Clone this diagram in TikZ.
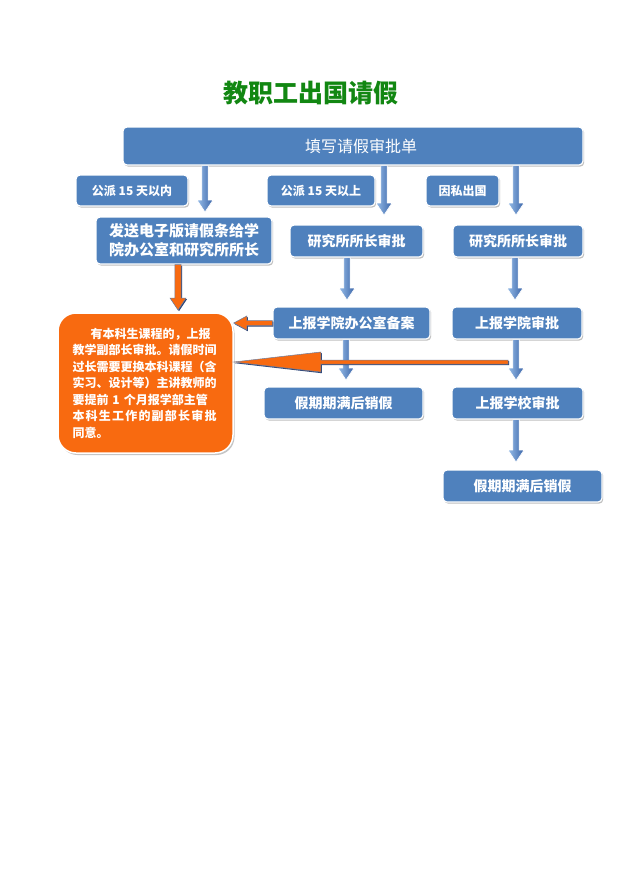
\documentclass[tikz,border=0pt]{standalone}
\usepackage{fontspec}
\setmainfont{Noto Sans CJK SC}
\usetikzlibrary{shadows,calc}
\definecolor{boxblue}{RGB}{79,129,189}
\definecolor{arrlight}{RGB}{150,188,232}
\definecolor{arrdark}{RGB}{58,100,168}
\definecolor{orng}{RGB}{248,106,16}
\definecolor{ttlgreen}{RGB}{18,135,18}
\definecolor{shdblue}{RGB}{45,70,120}
\newcommand\dnarrow[3]{%
  \path[#1] let \p1=(#2), \p2=(#3) in
  (\x1-3.2pt,\y1) -- (\x1+3.2pt,\y1) -- (\x1+3.2pt,\y2+12pt) -- (\x1+8pt,\y2+12pt) --
  (\x1,\y2) -- (\x1-8pt,\y2+12pt) -- (\x1-3.2pt,\y2+12pt) -- cycle;}
\newcommand\lfarrow[6]{%
  \path[#1] let \p1=(#2), \p2=(#3) in
  (\x1,\y1+#4) -- (\x2+#5,\y1+#4) -- (\x2+#5,\y1+#6) -- (\x2,\y2) --
  (\x2+#5,\y1-#6) -- (\x2+#5,\y1-#4) -- (\x1,\y1-#4) -- cycle;}
\begin{document}
\begin{tikzpicture}[x=1pt,y=-1pt,
  box/.style={rectangle, rounded corners=4pt, fill=boxblue, draw=white, line width=1.2pt,
    text=white, font=\bfseries\fontsize{14}{17}\selectfont, inner sep=0pt, align=center,
    drop shadow={shadow xshift=1.2pt, shadow yshift=-1.6pt, fill=black!45, opacity=.55}},
  lbl/.style={box, font=\bfseries\fontsize{12}{14}\selectfont, minimum height=31pt},
  bluearr/.style={left color=arrlight, right color=arrdark, draw=white, line width=0.6pt},
  orarr/.style={fill=orng, draw=shdblue!70, line width=0.5pt},
  orshadow/.style={fill=shdblue}]
\fill[white] (0,0) rectangle (622,883);
\useasboundingbox (0,0) rectangle (622,883);

\node[font=\bfseries\fontsize{25}{28}\selectfont, text=ttlgreen] (title) at (311,93) {教职工出国请假};

\node[box, font=\fontsize{16}{19}\selectfont, minimum width=460pt, minimum height=38pt] (top) at (353,146) {\hspace*{16pt}填写请假审批单};

\node[lbl, minimum width=112pt] (l1) at (132,190.5) {公派 15 天以内};
\node[lbl, minimum width=108pt] (l2) at (321,190.5) {公派 15 天以上};
\node[lbl, minimum width=73pt] (l3) at (462.5,190.5) {因私出国};

\node[box, font=\bfseries\fontsize{15}{19}\selectfont, minimum width=176pt, minimum height=47pt] (send) at (184,240.5) {发送电子版请假条给学\\院办公室和研究所所长};
\node[box, minimum width=133pt, minimum height=32pt] (dir1) at (356.5,241) {研究所所长审批};
\node[box, minimum width=130pt, minimum height=32pt] (dir2) at (518,241) {研究所所长审批};

\node[box, minimum width=157pt, minimum height=32pt] (office) at (351.5,323) {上报学院办公室备案};
\node[box, minimum width=130pt, minimum height=32pt] (college) at (517,323) {上报学院审批};

\node[box, minimum width=159pt, minimum height=32pt] (end1) at (343.5,403) {假期期满后销假};
\node[box, minimum width=131pt, minimum height=32pt] (school) at (517.5,403) {上报学校审批};
\node[box, minimum width=159pt, minimum height=32pt] (end2) at (522.5,486) {假期期满后销假};

\node[rectangle, rounded corners=18pt, fill=orng, draw=white, line width=1.5pt,
  minimum width=175pt, minimum height=140pt, text width=146pt, align=left,
  inner sep=0pt, text=white, font=\bfseries\fontsize{12}{16.5}\selectfont,
  drop shadow={shadow xshift=1.5pt, shadow yshift=-2pt, fill=black!45, opacity=.5}] (note) at (145.5,383)
  {\hspace*{1.5em}有本科生课程的，上报\\
   教学副部长审批。请假时间\\
   过长需要更换本科课程（含\\
   实习、设计等）主讲教师的\\
   要提前 1 个月报学部主管\\
   \makebox[144pt][s]{本\hfil 科\hfil 生\hfil 工\hfil 作\hfil 的\hfil 副\hfil 部\hfil 长\hfil 审\hfil 批}\\
   同意。};

% arrow end points
\coordinate (a1s) at (top.south -| 205,0);
\coordinate (a1e) at (205,212);
\coordinate (a2s) at (top.south -| 384,0);
\coordinate (a2e) at (384,215);
\coordinate (a3s) at (top.south -| 516,0);
\coordinate (a3e) at (516,215);
\coordinate (a4s) at (dir1.south -| 347,0);
\coordinate (a4e) at (347,300);
\coordinate (a5s) at (dir2.south -| 515,0);
\coordinate (a5e) at (515,300);
\coordinate (a6s) at (office.south -| 346,0);
\coordinate (a6e) at (346,380);
\coordinate (a7s) at (college.south -| 516,0);
\coordinate (a7e) at (516,380);
\coordinate (a8s) at (school.south -| 516,0);
\coordinate (a8e) at (516,462);
\coordinate (o1s) at (send.south -| 178,0);
\coordinate (o1e) at (178,310);
\coordinate (o2s) at (office.west);
\coordinate (o2e) at (note.east |- office.west);
\coordinate (o3s) at (508,362);
\coordinate (o3e) at (note.east |- 0,362);

\dnarrow{bluearr}{a1s}{a1e}
\dnarrow{bluearr}{a2s}{a2e}
\dnarrow{bluearr}{a3s}{a3e}
\dnarrow{bluearr}{a4s}{a4e}
\dnarrow{bluearr}{a5s}{a5e}
\dnarrow{bluearr}{a6s}{a6e}
\dnarrow{bluearr}{a7s}{a7e}
\dnarrow{bluearr}{a8s}{a8e}

\begin{scope}[transform canvas={shift={(1pt,-1.2pt)}}]
  \dnarrow{orshadow}{o1s}{o1e}
  \lfarrow{orshadow}{o2s}{o2e}{2.5pt}{13pt}{7pt}
  \lfarrow{orshadow}{o3s}{o3e}{2pt}{87pt}{10pt}
\end{scope}
\dnarrow{orarr}{o1s}{o1e}
\lfarrow{orarr}{o2s}{o2e}{2.5pt}{13pt}{7pt}
\lfarrow{orarr}{o3s}{o3e}{2pt}{87pt}{10pt}
\end{tikzpicture}
\end{document}
